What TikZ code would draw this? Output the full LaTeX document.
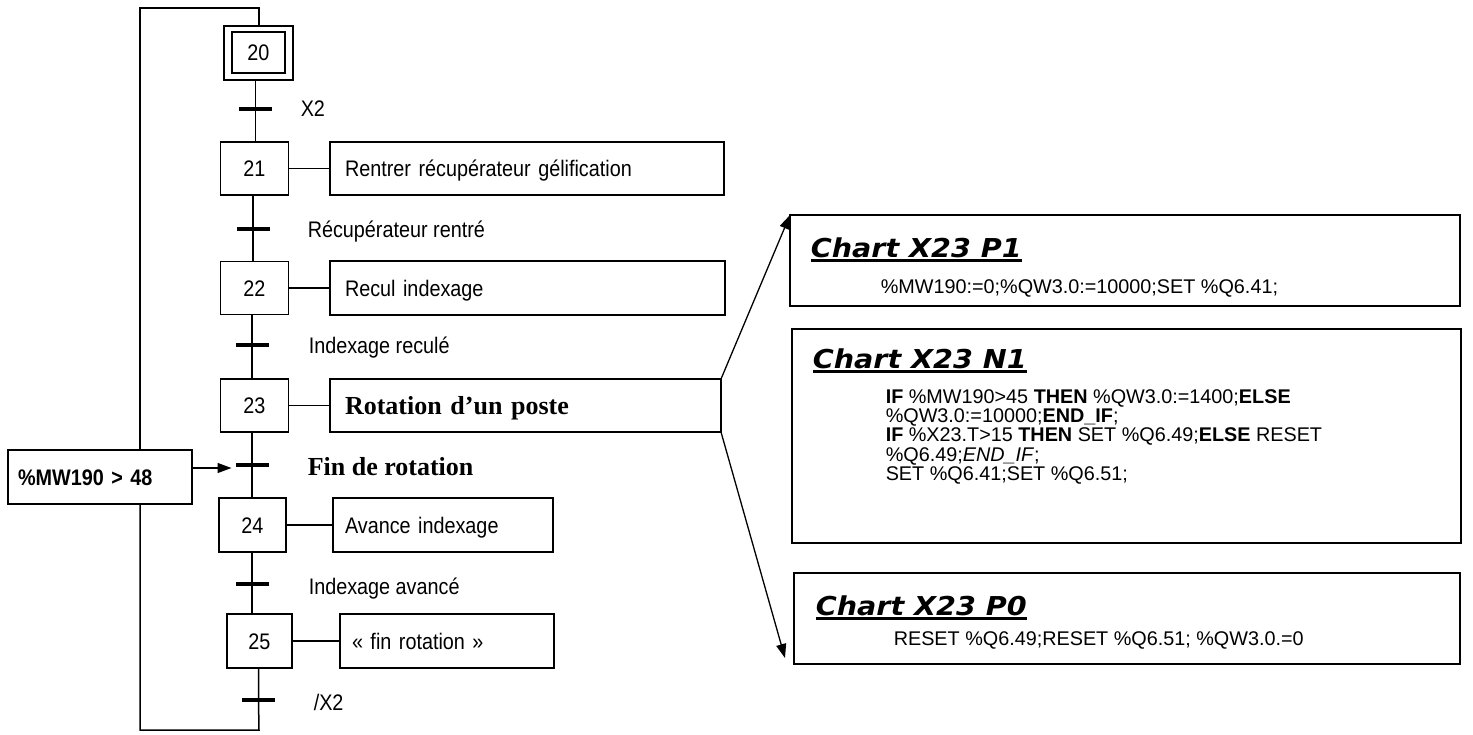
\documentclass[tikz,border=0pt]{standalone}
\usepackage{fontspec}
\setmainfont{Liberation Sans}
\newfontfamily\narrowsans[FakeStretch=0.88]{Liberation Sans}
\newfontfamily\serifbold{Liberation Serif}
\newfontfamily\chartfont[FakeStretch=1.1]{DejaVu Sans}
\usetikzlibrary{arrows.meta}
\newcommand\fA{\narrowsans\fontsize{22.5}{24}\selectfont}
\newcommand\fCode{\fontsize{19.8}{21}\selectfont}
\newcommand\fTitle{\chartfont\bfseries\itshape\fontsize{26}{28}\selectfont}
\newcommand\fSerif{\serifbold\bfseries\fontsize{26}{28}\selectfont}
\newcommand\myul[1]{\setbox0\hbox{#1}\rlap{\rule[-5pt]{\wd0}{2.8pt}}\box0}
\begin{document}
\begin{tikzpicture}[x=1pt,y=-1pt,
  every path/.style={line width=1.5pt},
  stepbox/.style={draw, line width=1.5pt, minimum width=68pt, minimum height=53pt, inner sep=0pt, outer sep=0pt, font=\fA, text height=16pt, text depth=0pt},
  actbox/.style={draw, line width=1.5pt, anchor=west, minimum height=53pt, inner ysep=0pt, outer sep=0pt, align=left, font=\fA, text height=16pt, text depth=0pt},
  transbar/.style={fill=black, draw=none, rectangle, minimum width=33pt, minimum height=4pt, inner sep=0pt, outer sep=0pt},
  translabel/.style={anchor=base west, inner sep=0pt, font=\fA},
  codebox/.style={draw, line width=1.5pt, anchor=north west, inner sep=0pt, outer sep=0pt},
  codeline/.style={anchor=base west, inner sep=0pt, font=\fCode},
  charttitle/.style={anchor=base west, inner sep=0pt, font=\fTitle},
  arr/.style={line width=1.3pt, -{Triangle[length=14pt,width=10pt]}}
]
\useasboundingbox (0,0) rectangle (1473,734);

% ---- steps ----
\node[stepbox, minimum width=53pt, minimum height=41pt] (s20) at (258.5,52.5) {20};
\node[draw, line width=1.5pt, minimum width=69pt, minimum height=54pt, inner sep=0pt, outer sep=0pt] (s20o) at (258.5,53) {};
\node[stepbox] (s21) at (254.5,168.5) {21};
\node[stepbox] (s22) at (254.5,288) {22};
\node[stepbox] (s23) at (254.5,405.5) {23};
\node[stepbox, minimum width=67pt, minimum height=54pt] (s24) at (252.5,525) {24};
\node[stepbox, minimum width=65pt, minimum height=54pt] (s25) at (259.5,641) {25};

% ---- actions ----
\node[actbox, minimum width=394pt, text width=364pt, inner xsep=15pt] (a21) at (330,168.5) {Rentrer récupérateur gélification};
\node[actbox, minimum width=395pt, text width=365pt, inner xsep=15pt, minimum height=54pt] (a22) at (330,288) {Recul indexage};
\node[actbox, minimum width=391pt, text width=361pt, inner xsep=15pt, font=\fSerif, text height=17.5pt] (a23) at (330,405.5) {Rotation d’un poste};
\node[actbox, minimum width=220pt, text width=196pt, inner xsep=12pt, minimum height=54pt] (a24) at (333,525) {Avance indexage};
\node[actbox, minimum width=214pt, text width=190pt, inner xsep=12pt, minimum height=54pt] (a25) at (340,641) {« fin rotation »};

\foreach \s in {21,22,23,24,25} \draw (s\s.east) -- (a\s.west);

% ---- transitions ----
\node[transbar] (t20) at (255.5,109) {};
\node[transbar] (t21) at (253,229) {};
\node[transbar] (t22) at (252,345) {};
\node[transbar] (t23) at (252,465) {};
\node[transbar] (t24) at (252,584) {};
\node[transbar] (t25) at (258.5,700) {};

\node[translabel] (l20) at (300,116) {X2};
\node[translabel] (l21) at (307,237) {Récupérateur rentré};
\node[translabel] (l22) at (308,353) {Indexage reculé};
\node[translabel, font=\fSerif] (l23) at (307,475) {Fin de rotation};
\node[translabel] (l24) at (308,594) {Indexage avancé};
\node[translabel] (l25) at (313,710) {/X2};

% ---- vertical links ----
\draw (s20o.south -| t20.center) -- (s21.north -| t20.center);
\draw (s21.south -| t21.center) -- (s22.north -| t21.center);
\draw (s22.south -| t22.center) -- (s23.north -| t22.center);
\draw (s23.south -| t23.center) -- (s24.north -| t23.center);
\draw (s24.south -| t24.center) -- (s25.north -| t24.center);

% ---- loop back ----
\node[draw, line width=1.5pt, anchor=north west, minimum width=184pt, minimum height=54pt, inner xsep=10pt, inner ysep=0pt, outer sep=0pt, text width=164pt, align=left, font=\fA\bfseries, text height=16pt, text depth=0pt] (mw) at (8,450) {\%MW190 > 48};
\coordinate (bot) at (259,730);
\coordinate (top) at (259,8);
\draw (s25.south -| t25.center) -- (t25.center) -- (bot) -| (mw.south -| 140,0);
\draw (mw.north -| 140,0) |- (top) -- (s20o.north -| top);
\draw[arr] ([yshift=9pt]mw.east) -- ([xshift=-4pt,yshift=-3pt]t23.west);

% ---- chart boxes ----
\node[codebox, minimum width=670pt, minimum height=91pt] (p1box) at (790,215) {};
\node[codebox, minimum width=669pt, minimum height=214pt] (n1box) at (792,329) {};
\node[codebox, minimum width=666pt, minimum height=91pt] (p0box) at (794,573) {};

\node[charttitle] (p1t) at (810,257) {\myul{Chart X23 P1}};
\node[codeline] (p1c) at (880,293) {\%MW190:=0;\%QW3.0:=10000;SET \%Q6.41;};

\node[charttitle] (n1t) at (812,368) {\myul{Chart X23 N1}};
\node[codeline] (n1c1) at (885,403) {\textbf{IF} \%MW190>45 \textbf{THEN} \%QW3.0:=1400;\textbf{ELSE}};
\node[codeline] (n1c2) at (885,422.4) {\%QW3.0:=10000;\textbf{END\_IF};};
\node[codeline] (n1c3) at (885,441.8) {\textbf{IF} \%X23.T>15 \textbf{THEN} SET \%Q6.49;\textbf{ELSE} RESET};
\node[codeline] (n1c4) at (885,461.2) {\%Q6.49;\textit{END\_IF};};
\node[codeline] (n1c5) at (885,480.6) {SET \%Q6.41;SET \%Q6.51;};

\node[charttitle] (p0t) at (815,615) {\myul{Chart X23 P0}};
\node[codeline] (p0c) at (893,645) {RESET \%Q6.49;RESET \%Q6.51; \%QW3.0.=0};

\coordinate (p0tip) at (785,658);
\draw[arr] (a23.north east) -- (p1box.north west);
\draw[arr] (a23.south east) -- (p0tip);
\end{tikzpicture}
\end{document}
